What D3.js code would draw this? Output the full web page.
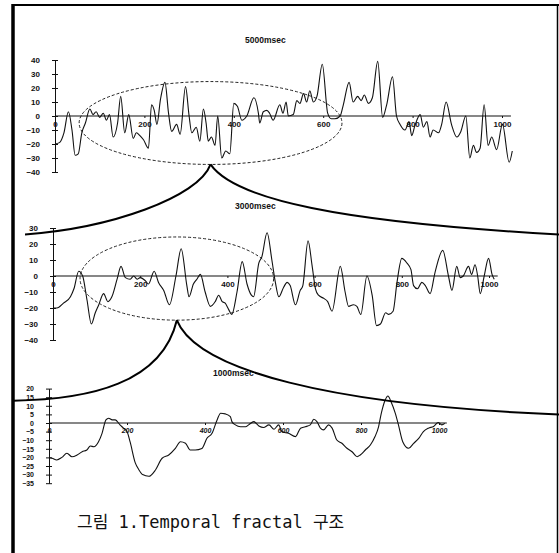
<!DOCTYPE html>
<meta charset="utf-8">
<style>
body { margin: 0; background: #fff; }
svg { display: block; }
.tick text { font-family: "Liberation Sans", Arial, sans-serif; font-weight: bold; fill: #111; }
.series { fill: none; stroke: #111; stroke-width: 1.1; stroke-linejoin: round; }
.zoomring { fill: none; stroke: #222; stroke-width: 1; stroke-dasharray: 3,2; }
.connector { fill: none; stroke: #000; stroke-width: 2; }
.title { font-family: "Liberation Sans", Arial, sans-serif; font-weight: bold; font-size: 8.5px; fill: #111; }
</style>
<svg width="559" height="553"></svg>
<script src="https://d3js.org/d3.v7.min.js"></script>
<script>

// 5000msec window
var series5000 = [[0,-20],[10,-19],[20,-12],[30,3],[38,-10],[45,-28],[52,-27],[60,-12],[68,-5],[78,5],[85,1],[92,3],[100,-1],[108,2],[115,-3],[122,1],[130,-15],[140,-5],[147,14],[156,-12],[165,1],[175,-16],[182,-12],[190,-14],[198,-17],[209,-23],[216,8],[222,4],[228,-6],[236,12],[246,24],[254,2],[261,-11],[272,-6],[280,-13],[292,21],[300,0],[306,-12],[316,-8],[324,-18],[332,5],[338,-5],[343,-18],[350,-15],[358,-21],[364,0],[373,-30],[382,-25],[391,-27],[400,9],[408,7],[418,-3],[429,0],[445,13],[455,2],[458,-5],[466,3],[474,4],[480,2],[488,-3],[503,8],[510,2],[517,10],[522,0],[533,1],[541,11],[548,9],[556,16],[563,10],[570,18],[578,10],[586,14],[598,37],[610,2],[618,-2],[626,-2],[638,0],[645,8],[658,24],[667,10],[677,14],[685,11],[692,15],[701,9],[710,13],[722,39],[733,-1],[742,8],[755,28],[764,0],[772,-6],[783,-10],[792,-4],[798,-14],[805,-7],[817,1],[824,-8],[832,-4],[839,-15],[846,-10],[858,-12],[865,-6],[875,10],[887,-6],[899,-15],[908,-11],[919,0],[928,-30],[936,-21],[943,-26],[951,-23],[960,8],[969,-21],[977,-15],[988,-24],[1001,-6],[1016,-33],[1023,-25]];

// 3000msec window
var series3000 = [[0,-20],[9,-20],[24,-17],[40,-13],[48,-8],[59,3],[68,0],[78,-15],[88,-30],[97,-23],[105,-18],[116,-11],[126,-16],[135,-13],[147,-2],[156,6],[166,-1],[177,-2],[185,0],[193,-2],[200,-1],[212,-3],[219,-5],[232,3],[242,-4],[254,-9],[267,-18],[282,0],[294,17],[307,-6],[312,-13],[322,-5],[330,-2],[338,1],[349,-10],[361,-19],[372,-16],[380,-12],[388,-16],[395,-17],[403,-21],[410,-24],[422,-10],[434,9],[445,-5],[455,-12],[460,-13],[472,8],[479,12],[491,27],[502,10],[510,-4],[518,-13],[529,-7],[537,-4],[544,-6],[556,-18],[567,-9],[573,-6],[585,22],[594,7],[602,-8],[609,-12],[621,-14],[630,-16],[640,-22],[659,6],[670,-10],[678,-19],[689,-18],[697,-19],[706,-24],[720,0],[732,-12],[742,-31],[751,-30],[763,-23],[770,-24],[780,-22],[789,-4],[800,11],[812,8],[821,4],[827,-6],[836,-8],[846,-4],[854,-6],[865,-11],[876,2],[894,16],[907,0],[915,-9],[926,6],[934,-1],[941,0],[953,6],[960,1],[968,7],[974,0],[980,-11],[989,0],[999,11],[1007,1],[1012,-2]];

// 1000msec window
var series1000 = [[0,-20],[8,-20.5],[20,-21.5],[33,-20],[46,-17.6],[59,-19.6],[72,-18.6],[85,-16.7],[97,-15.7],[106,-13.4],[115,-13.8],[127,-10.9],[136,-6],[146,1.8],[153,2.8],[162,1.8],[170,1.8],[182,-1.1],[191,-3],[200,-5],[208,-11],[221,-23],[230,-27],[240,-30],[256,-31],[273,-27.3],[290,-20.5],[307,-18.6],[324,-14.8],[337,-10.9],[350,-11.8],[362,-15.7],[375,-15.7],[392,-14.8],[405,-8.9],[418,-6],[431,1.8],[440,5.7],[452,5.3],[465,3.7],[469,0.8],[478,-1.1],[491,-2.2],[504,-2.2],[512,-1.1],[525,0.8],[538,-1.7],[550,-2.6],[564,-1.1],[577,-3.6],[589,-1.1],[597,-5],[614,-6],[632,-7.9],[645,-3],[657,-2.2],[670,-1.1],[679,2.2],[687,0.8],[696,-3],[704,-4],[717,-1.1],[726,-3],[738,-9.9],[751,-11.8],[764,-14.7],[777,-16.7],[790,-19.6],[798,-18.6],[811,-15.7],[824,-12.8],[836,-7.9],[845,-2.2],[852,5.6],[862,13.4],[869,15.7],[877,12.4],[888,5.6],[896,-1.1],[907,-10.9],[922,-14.7],[935,-11.8],[948,-8.9],[960,-5],[973,-3],[986,-2],[998,0.3],[1007,-1.1],[1015,-0.2]];

var xTicks = [0, 200, 400, 600, 800, 1000];
var yTicks5000 = [40, 30, 20, 10, 0, -10, -20, -30, -40];
var yTicks3000 = [30, 20, 10, 0, -10, -20, -30, -40];
var yTicks1000 = [20, 15, 10, 5, 0, -5, -10, -15, -20, -25, -30, -35];
var titles = ["5000msec", "3000msec", "1000msec"];

// zoomed regions (data units of the panel they sit on)
var ring5000 = {cx: 348, cy: -5, rx: 294, ry: 29.6};
var ring3000 = {cx: 284, cy: -1.6, rx: 222, ry: 26};

var svg = d3.select("svg");

// frame
svg.append("line").attr("x1", 13).attr("y1", 4).attr("x2", 13).attr("y2", 553)
    .attr("stroke", "#000").attr("stroke-width", 3.5);
svg.append("line").attr("x1", 12).attr("y1", 5).attr("x2", 559).attr("y2", 5)
    .attr("stroke", "#000").attr("stroke-width", 2);
svg.append("line").attr("x1", 557.5).attr("y1", 5).attr("x2", 557.5).attr("y2", 553)
    .attr("stroke", "#000").attr("stroke-width", 1.5);

var panels = [
  {data: series5000, yTicks: yTicks5000, title: titles[0], tx: 245, ty: 43,
   x: d3.scaleLinear().domain([0, 1000]).range([55, 502]),
   y: d3.scaleLinear().domain([40, -40]).range([60, 172]), fs: 8, italic: false},
  {data: series3000, yTicks: yTicks3000, title: titles[1], tx: 235, ty: 209,
   x: d3.scaleLinear().domain([0, 1000]).range([53, 489]),
   y: d3.scaleLinear().domain([30, -40]).range([228, 340]), fs: 8, italic: false},
  {data: series1000, yTicks: yTicks1000, title: titles[2], tx: 213, ty: 376,
   x: d3.scaleLinear().domain([0, 1000]).range([49, 439]),
   y: d3.scaleLinear().domain([20, -35]).range([388.6, 483.2]), fs: 7, italic: true}
];

panels.forEach(function(p) {
  var g = svg.append("g");
  var x0 = p.x(0);

  // y axis with crossing ticks
  var ya = g.append("g")
      .attr("transform", "translate(" + x0 + ",0)")
      .call(d3.axisLeft(p.y).tickValues(p.yTicks).tickFormat(d3.format("d"))
            .tickSize(3).tickSizeOuter(0).tickPadding(12));
  ya.select(".domain").attr("stroke", "#111");
  ya.selectAll(".tick line").attr("x1", 3).attr("stroke", "#111");
  ya.selectAll(".tick text").style("font-size", p.fs + "px");

  // zero line as x axis
  g.append("line")
      .attr("x1", x0).attr("x2", p.x(1020))
      .attr("y1", p.y(0)).attr("y2", p.y(0))
      .attr("stroke", "#111").attr("stroke-width", 1.2);
  var xa = g.append("g")
      .attr("transform", "translate(0," + p.y(0) + ")")
      .call(d3.axisBottom(p.x).tickValues(xTicks).tickFormat(d3.format("d"))
            .tickSize(2).tickPadding(3));
  xa.select(".domain").remove();
  xa.selectAll(".tick line").attr("stroke", "#111");
  xa.selectAll(".tick text").style("font-size", p.fs + "px")
      .style("font-style", p.italic ? "italic" : "normal");

  g.append("path")
      .datum(p.data)
      .attr("class", "series")
      .attr("d", d3.line().curve(d3.curveMonotoneX).x(d => p.x(d[0])).y(d => p.y(d[1])));

  g.append("text").attr("class", "title")
      .attr("x", p.tx).attr("y", p.ty).text(p.title);
});

function drawRing(p, r) {
  var cx = p.x(r.cx), cy = p.y(r.cy);
  var rx = p.x(r.cx + r.rx) - cx, ry = p.y(r.cy - r.ry) - cy;
  svg.append("ellipse").attr("class", "zoomring")
      .attr("cx", cx).attr("cy", cy).attr("rx", rx).attr("ry", ry);
  return [cx, cy + ry];
}

var apex1 = drawRing(panels[0], ring5000);
var apex2 = drawRing(panels[1], ring3000);

// flared connectors from each ring down to the full width of the next panel
function connector(a, c1, c2, end) {
  var path = d3.path();
  path.moveTo(a[0], a[1]);
  path.bezierCurveTo(c1[0], c1[1], c2[0], c2[1], end[0], end[1]);
  svg.append("path").attr("class", "connector").attr("d", path.toString());
}

var top2 = panels[1].y(26);
connector(apex1, [apex1[0] - 12, apex1[1] + 33], [110, top2 - 6], [25, top2]);
connector(apex1, [apex1[0] + 24, apex1[1] + 35], [340, top2 - 12], [559, top2]);

var leftEnd3 = panels[2].y(13), rightEnd3 = panels[2].y(5);
connector(apex2, [apex2[0] - 15, apex2[1] + 63], [90, leftEnd3 - 1], [13, leftEnd3]);
connector(apex2, [apex2[0] + 20, apex2[1] + 50], [330, rightEnd3 - 9], [559, rightEnd3]);

svg.append("text")
    .attr("x", 77).attr("y", 528)
    .style("font-family", "'DejaVu Sans Mono', 'Noto Sans CJK KR', monospace")
    .style("font-size", "17px")
    .style("fill", "#111")
    .text("그림 1.Temporal fractal 구조");

</script>
